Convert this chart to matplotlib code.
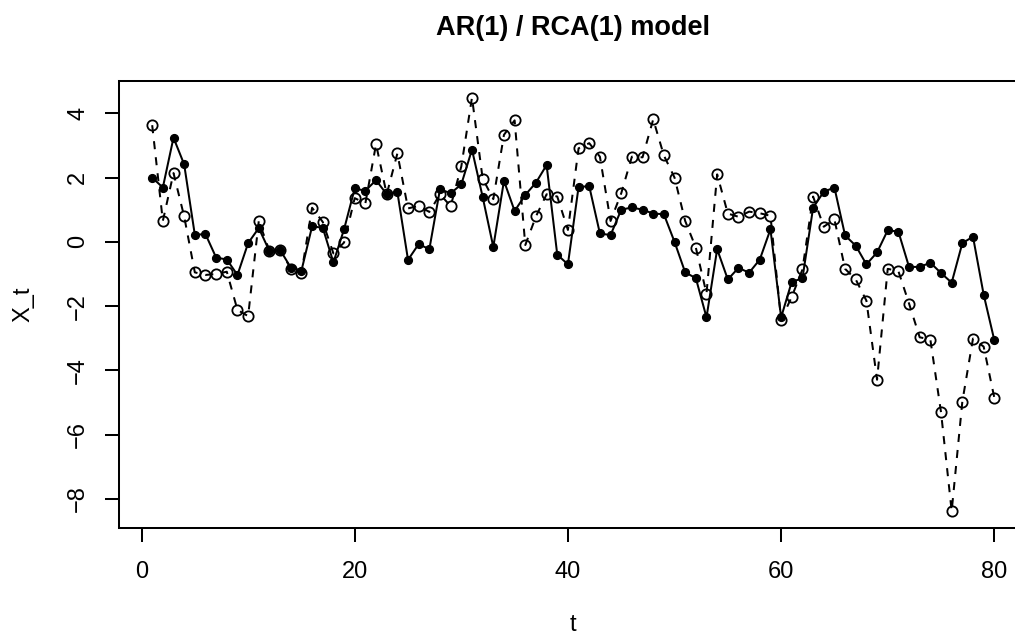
import matplotlib
matplotlib.use("Agg")
import matplotlib.pyplot as plt
import numpy as np

plt.rcParams['font.family'] = ['Liberation Sans', 'DejaVu Sans']

t = list(range(1, 81))
ar = [2.00, 1.69, 3.24, 2.41, 0.22, 0.24, -0.49, -0.55, -1.03, -0.04,
      0.43, -0.29, -0.25, -0.80, -0.90, 0.48, 0.44, -0.64, 0.39, 1.66,
      1.59, 1.92, 1.48, 1.55, -0.56, -0.07, -0.23, 1.64, 1.51, 1.79,
      2.87, 1.40, -0.16, 1.90, 0.96, 1.46, 1.84, 2.39, -0.40, -0.70,
      1.71, 1.73, 0.26, 0.21, 1.00, 1.07, 1.00, 0.88, 0.86, 0.00,
      -0.95, -1.13, -2.35, -0.23, -1.17, -0.81, -0.96, -0.55, 0.39, -2.35,
      -1.24, -1.14, 1.06, 1.56, 1.69, 0.20, -0.12, -0.70, -0.33, 0.36,
      0.32, -0.78, -0.78, -0.65, -0.97, -1.27, -0.04, 0.16, -1.64, -3.06]
rca = [3.63, 0.65, 2.14, 0.79, -0.95, -1.03, -1.00, -0.93, -2.12, -2.31,
       0.65, -0.28, -0.25, -0.83, -0.97, 1.06, 0.62, -0.36, -0.02, 1.36,
       1.20, 3.04, 1.48, 2.75, 1.04, 1.12, 0.93, 1.48, 1.11, 2.35,
       4.49, 1.97, 1.33, 3.33, 3.78, -0.10, 0.79, 1.48, 1.41, 0.37,
       2.91, 3.07, 2.65, 0.65, 1.51, 2.65, 2.63, 3.81, 2.69, 2.00,
       0.65, -0.18, -1.61, 2.10, 0.88, 0.78, 0.94, 0.89, 0.81, -2.42,
       -1.71, -0.86, 1.41, 0.47, 0.70, -0.84, -1.17, -1.83, -4.29, -0.84,
       -0.91, -1.92, -2.97, -3.04, -5.30, -8.38, -4.97, -3.01, -3.26, -4.85]
x_ticks = [0, 20, 40, 60, 80]
y_ticks = [-8, -6, -4, -2, 0, 2, 4]

W, H = 1015, 634
fig = plt.figure(figsize=(W / 100, H / 100), dpi=100)
left, right, top, bottom = 118.5, 1028.0, 81.0, 527.7
ax = fig.add_axes([left / W, (H - bottom) / H, (right - left) / W, (bottom - top) / H])

ax.plot(t, ar, '-', color='black', lw=1.45, marker='o', markersize=5.6,
        markerfacecolor='black', markeredgecolor='black', markeredgewidth=1.0)
ax.plot(t, rca, '--', color='black', lw=1.45, dashes=(4, 4), marker='o', markersize=7.4,
        markerfacecolor='none', markeredgecolor='black', markeredgewidth=1.3)

xmin, xmax = min(t), max(t)
dx = (xmax - xmin) * 0.04
ax.set_xlim(xmin - dx, xmax + dx)
allv = ar + rca
ymin, ymax = min(allv), max(allv)
dy = (ymax - ymin) * 0.04
ax.set_ylim(ymin - dy, ymax + dy)

ax.set_xticks(x_ticks)
ax.set_xticklabels([str(v) for v in x_ticks])
ax.set_yticks(y_ticks)
ax.set_yticklabels(['\u2212' + str(-v) if v < 0 else str(v) for v in y_ticks],
                   rotation=90, va='center')
ax.tick_params(axis='both', length=10, width=1.45, labelsize=17, color='black')
ax.tick_params(axis='x', pad=14)
ax.tick_params(axis='y', pad=11)
for s in ax.spines.values():
    s.set_linewidth(1.45)

ax.set_xlabel('t', fontsize=17, labelpad=22)
ax.set_ylabel('X_t', fontsize=17, labelpad=24)
ax.set_title('AR(1) / RCA(1) model', fontsize=19.5, fontweight='bold', pad=33,
             x=(573 - left) / (right - left))

fig.savefig('out.png', dpi=100)
